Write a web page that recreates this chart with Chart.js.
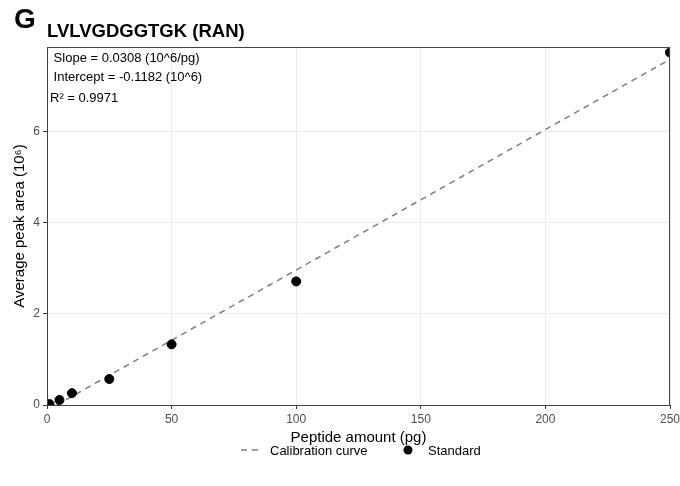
<!DOCTYPE html>
<html>
<head>
<meta charset="utf-8">
<script src="https://cdn.jsdelivr.net/npm/chart.js@4"></script>
<style>
  html, body { margin: 0; padding: 0; background: #fff; }
  #chart { display: block; }
</style>
</head>
<body>
<canvas id="chart" width="680" height="486"></canvas>
<script>
// values
const peptideAmount = [1, 5, 10, 25, 50, 100, 250];
const peakArea = [0.02, 0.11, 0.26, 0.57, 1.33, 2.71, 7.73];

// calibration curve end points
const curveAmount = [0, 250];
const curveArea = [-0.12, 7.58];

const xTicks = [0, 50, 100, 150, 200, 250];
const yTicks = [0, 2, 4, 6];

const fitLines = [
    { text: ' Slope = 0.0308 (10^6/pg)', y: 62 },
    { text: ' Intercept = -0.1182 (10^6)', y: 81 },
    { text: 'R\u00b2 = 0.9971', y: 102 }
];

const FONT = '"Liberation Sans", Arial, sans-serif';

(function () {
    const ctx = document.getElementById('chart').getContext('2d');

    // titles, fit text, panel border and legend
    const decorations = {
        id: 'decorations',
        afterDraw(chart) {
            const c = chart.ctx;
            const area = chart.chartArea;
            c.save();

            // panel border
            c.strokeStyle = '#444';
            c.lineWidth = 1;
            c.strokeRect(area.left + 0.5, area.top + 0.5, area.right - area.left - 1, area.bottom - area.top);

            c.fillStyle = '#000';
            c.textBaseline = 'alphabetic';
            c.textAlign = 'left';
            c.font = 'bold 28px ' + FONT;
            c.fillText('G', 14, 28);
            c.font = 'bold 18.5px ' + FONT;
            c.fillText('LVLVGDGGTGK (RAN)', 47, 37);

            c.font = '13px ' + FONT;
            fitLines.forEach(l => c.fillText(l.text, 50, l.y));

            // legend
            const ly = 450;
            c.strokeStyle = '#7f7f7f';
            c.lineWidth = 1.5;
            c.setLineDash([6, 5]);
            c.beginPath();
            c.moveTo(241, ly);
            c.lineTo(262, ly);
            c.stroke();
            c.setLineDash([]);
            c.fillText('Calibration curve', 270, ly + 5);

            c.beginPath();
            c.arc(408, ly, 4.5, 0, Math.PI * 2);
            c.fill();
            c.fillText('Standard', 428, ly + 5);

            c.restore();
        }
    };

    new Chart(ctx, {
        type: 'scatter',
        data: {
            datasets: [
                {
                    type: 'line',
                    label: 'Calibration curve',
                    data: curveAmount.map((x, i) => ({ x: x, y: curveArea[i] })),
                    borderColor: '#7f7f7f',
                    borderWidth: 1.5,
                    borderDash: [6, 5],
                    pointRadius: 0,
                    fill: false,
                    order: 2
                },
                {
                    label: 'Standard',
                    data: peptideAmount.map((x, i) => ({ x: x, y: peakArea[i] })),
                    backgroundColor: '#000',
                    borderColor: '#000',
                    pointRadius: 4.5,
                    pointHoverRadius: 4.5,
                    order: 1
                }
            ]
        },
        options: {
            responsive: false,
            animation: false,
            layout: { padding: { left: 0, top: 47, right: 10, bottom: 0 } },
            plugins: {
                legend: { display: false },
                title: { display: false },
                tooltip: { enabled: false }
            },
            scales: {
                x: {
                    type: 'linear',
                    min: 0,
                    max: 250,
                    afterBuildTicks: s => { s.ticks = xTicks.map(v => ({ value: v })); },
                    afterFit: s => { s.height = 81; s.paddingLeft = 0; s.paddingRight = 0; },
                    grid: { color: '#ebebeb', lineWidth: 1, tickColor: '#333', tickLength: 4 },
                    border: { display: true, color: '#444', width: 1 },
                    ticks: { color: '#4d4d4d', font: { family: FONT, size: 12 }, padding: 3, maxRotation: 0 },
                    title: {
                        display: true,
                        text: 'Peptide amount (pg)',
                        color: '#000',
                        font: { family: FONT, size: 15 },
                        padding: { top: 0, bottom: 39 }
                    }
                },
                y: {
                    type: 'linear',
                    min: 0,
                    max: 7.85,
                    afterBuildTicks: s => { s.ticks = yTicks.map(v => ({ value: v })); },
                    afterFit: s => { s.width = 47; s.paddingTop = 0; s.paddingBottom = 0; },
                    grid: { color: '#ebebeb', lineWidth: 1, tickColor: '#333', tickLength: 4 },
                    border: { display: true, color: '#444', width: 1 },
                    ticks: { color: '#4d4d4d', font: { family: FONT, size: 12 }, padding: 3 },
                    title: {
                        display: true,
                        text: 'Average peak area (10\u2076)',
                        color: '#000',
                        font: { family: FONT, size: 15 },
                        padding: { top: 11, bottom: 0 }
                    }
                }
            }
        },
        plugins: [decorations]
    });
})();
</script>
</body>
</html>
